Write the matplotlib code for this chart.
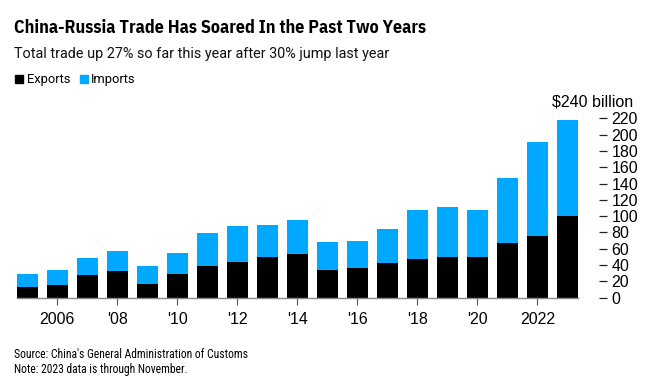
import matplotlib
matplotlib.use("Agg")
import matplotlib.pyplot as plt
import matplotlib.transforms as mtransforms
from matplotlib.patches import Rectangle

years = list(range(2005, 2024))
totals = [29.0, 33.5, 48.3, 56.9, 38.9, 55.2, 79.3, 88.3, 89.2, 95.3,
          67.9, 69.5, 84.3, 107.2, 111.2, 108.0, 147.2, 190.6, 218.4]
exports = [12.7, 15.5, 28.2, 32.7, 17.2, 29.4, 38.9, 43.8, 49.5, 53.6,
           34.4, 36.8, 42.5, 47.9, 49.5, 50.3, 67.5, 75.7, 100.2]
imports = [t - e for t, e in zip(totals, exports)]

xtick_years = [2006, 2008, 2010, 2012, 2014, 2016, 2018, 2020, 2022]
xtick_labels = ["2006", "'08", "'10", "'12", "'14", "'16", "'18", "'20", "2022"]
ytick_vals = [0, 20, 40, 60, 80, 100, 120, 140, 160, 180, 200, 220]
ytick_labels = [str(v) for v in ytick_vals]

BLUE = "#00A9FF"
plt.rcParams["font.family"] = ["Liberation Sans", "DejaVu Sans"]
TITLE_FONT = ["IBM Plex Sans Condensed", "Liberation Sans", "DejaVu Sans"]
SUB_FONT = ["Roboto", "Liberation Sans", "DejaVu Sans"]
NOTE_FONT = ["Roboto Condensed", "Liberation Sans", "DejaVu Sans"]

fig = plt.figure(figsize=(6.5, 3.86), dpi=100)
ax = fig.add_axes([16.7 / 650, 88.3 / 386, (578 - 16.7) / 650, (284 - 88.3) / 386])

ax.bar(years, exports, width=0.7, color="black", linewidth=0)
ax.bar(years, imports, width=0.7, bottom=exports, color=BLUE, linewidth=0)

ax.set_xlim(2004.65, 2023.35)
ax.set_ylim(0, 240)

for s in ["top", "left", "right"]:
    ax.spines[s].set_visible(False)
ax.spines["bottom"].set_color("#8a8a8a")
ax.spines["bottom"].set_linewidth(1.0)

ax.set_xticks(xtick_years)
ax.set_xticklabels(xtick_labels, fontsize=11.5)
ax.tick_params(axis="x", length=5, width=0.8, color="#555555", pad=5)

ax.yaxis.tick_right()
ax.spines["right"].set_position(("outward", 15))
ax.set_yticks(ytick_vals)
ax.set_yticklabels(ytick_labels, fontsize=11.5)
ax.tick_params(axis="y", length=6, width=0.9, color="#222222", pad=3, direction="out")

ax.text(633 / 650, 240, "$240 billion",
        transform=mtransforms.blended_transform_factory(fig.transFigure, ax.transData),
        ha="right", va="center", fontsize=11.5)

fig.text(14 / 650, 1 - 28 / 386, "China-Russia Trade Has Soared In the Past Two Years",
         fontsize=13, fontweight="bold", va="center", ha="left", family=TITLE_FONT)
fig.text(14 / 650, 1 - 54 / 386, "Total trade up 27% so far this year after 30% jump last year",
         fontsize=10.4, va="center", ha="left", color="#111111", family=SUB_FONT)

fig.patches.append(Rectangle((15 / 650, 1 - 83 / 386), 8 / 650, 8 / 386,
                             transform=fig.transFigure, color="black"))
fig.text(27 / 650, 1 - 79 / 386, "Exports", fontsize=9.3, va="center", ha="left",
         family=SUB_FONT)
fig.patches.append(Rectangle((80 / 650, 1 - 83 / 386), 8 / 650, 8 / 386,
                             transform=fig.transFigure, color=BLUE))
fig.text(91 / 650, 1 - 79 / 386, "Imports", fontsize=9.3, va="center", ha="left",
         family=SUB_FONT)

fig.text(14 / 650, 1 - 355 / 386, "Source: China's General Administration of Customs",
         fontsize=8.4, va="center", ha="left", family=NOTE_FONT)
fig.text(14 / 650, 1 - 370 / 386, "Note: 2023 data is through November.",
         fontsize=8.4, va="center", ha="left", family=NOTE_FONT)

fig.savefig("out.png", dpi=100)
